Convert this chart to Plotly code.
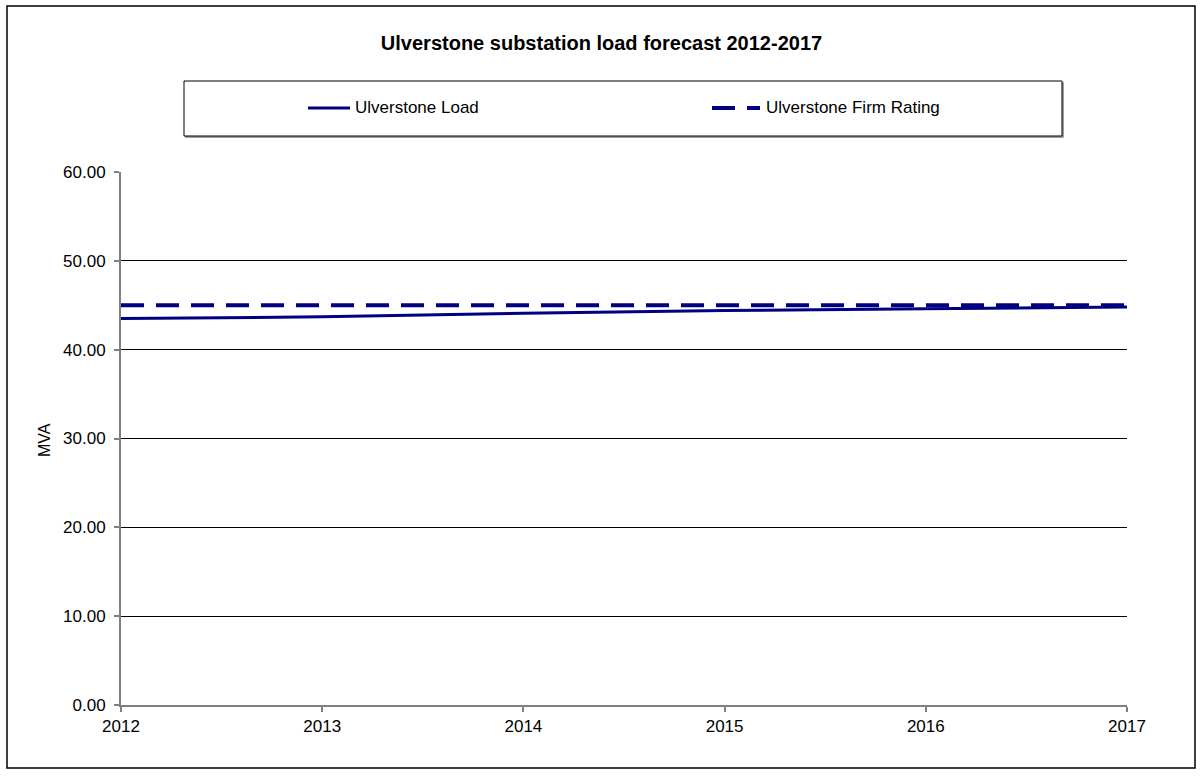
import plotly.graph_objects as go

# Forecast years and substation values (MVA)
years = [2012, 2013, 2014, 2015, 2016, 2017]
load_mva = [43.5, 43.7, 44.1, 44.4, 44.6, 44.8]
firm_rating_mva = [45.0, 45.0, 45.0, 45.0, 45.0, 45.0]

y_ticks = [0, 10, 20, 30, 40, 50, 60]

series_names = ["Ulverstone Load", "Ulverstone Firm Rating"]

NAVY = "#000080"
AXIS_GREY = "#808080"
FONT = "Liberation Sans, Arial, sans-serif"
FIRM_DASH = "23px,12px"

W, H = 1203, 776
L, R, T, B = 121, 76, 172, 71
PW, PH = W - L - R, H - T - B


def px_x(px):
    return (px - L) / PW


def px_y(py):
    return (H - B - py) / PH


fig = go.Figure()
fig.add_trace(go.Scatter(
    x=years, y=load_mva, mode="lines", name=series_names[0],
    line=dict(color=NAVY, width=3), showlegend=False,
))
fig.add_trace(go.Scatter(
    x=years, y=firm_rating_mva, mode="lines", name=series_names[1],
    line=dict(color=NAVY, width=4, dash=FIRM_DASH), showlegend=False,
))

LEG_Y = px_y(108)
shapes = [
    # outer chart frame
    dict(type="rect", xref="paper", yref="paper",
         x0=px_x(7), x1=px_x(1195), y0=px_y(768), y1=px_y(6),
         line=dict(color="black", width=1.5), layer="below"),
    # legend frame shadow
    dict(type="rect", xref="paper", yref="paper",
         x0=px_x(186), x1=px_x(1063), y0=px_y(137), y1=px_y(83),
         line=dict(color=AXIS_GREY, width=1.5), fillcolor="rgba(0,0,0,0)", layer="below"),
    # legend frame
    dict(type="rect", xref="paper", yref="paper",
         x0=px_x(184), x1=px_x(1062), y0=px_y(136), y1=px_y(81),
         line=dict(color="black", width=1), fillcolor="white", layer="below"),
    # legend keys
    dict(type="line", xref="paper", yref="paper",
         x0=px_x(308), x1=px_x(350), y0=LEG_Y, y1=LEG_Y,
         line=dict(color=NAVY, width=3)),
    dict(type="line", xref="paper", yref="paper",
         x0=px_x(712), x1=px_x(760), y0=LEG_Y, y1=LEG_Y,
         line=dict(color=NAVY, width=4, dash=FIRM_DASH)),
]

annotations = [
    dict(text=series_names[0], xref="paper", yref="paper",
         x=px_x(353), y=LEG_Y, xanchor="left", yanchor="middle",
         showarrow=False, font=dict(family=FONT, size=17, color="black")),
    dict(text=series_names[1], xref="paper", yref="paper",
         x=px_x(764), y=LEG_Y, xanchor="left", yanchor="middle",
         showarrow=False, font=dict(family=FONT, size=17, color="black")),
    dict(text="MVA", xref="paper", yref="paper",
         x=px_x(44), y=px_y(440), xanchor="center", yanchor="middle",
         textangle=-90, showarrow=False,
         font=dict(family=FONT, size=16, color="black")),
]

fig.update_layout(
    width=W, height=H, autosize=False,
    margin=dict(l=L, r=R, t=T, b=B),
    paper_bgcolor="white", plot_bgcolor="white",
    font=dict(family=FONT, size=17, color="black"),
    title=dict(
        text="<b>Ulverstone substation load forecast 2012-2017</b>",
        x=0.5, xanchor="center", xref="container",
        y=1 - 43 / H, yanchor="middle",
        font=dict(family=FONT, size=20, color="black"),
    ),
    showlegend=False,
    xaxis=dict(
        range=[2012, 2017], tickvals=years, ticktext=[str(y) for y in years],
        showgrid=False, zeroline=False,
        showline=True, linecolor=AXIS_GREY, linewidth=2,
        ticks="outside", ticklen=5, tickcolor=AXIS_GREY, tickwidth=1.5,
        ticklabelstandoff=0,
        tickfont=dict(family=FONT, size=17),
    ),
    yaxis=dict(
        range=[0, 60], tickvals=y_ticks, tickformat=".2f",
        showgrid=True, gridcolor="black", gridwidth=1,
        zeroline=False,
        showline=True, linecolor=AXIS_GREY, linewidth=2,
        ticks="outside", ticklen=5, tickcolor=AXIS_GREY, tickwidth=1.5,
        ticklabelstandoff=5,
        tickfont=dict(family=FONT, size=17),
    ),
    shapes=shapes,
    annotations=annotations,
)

fig.write_html(
    "out.html",
    config={"responsive": False},
    post_script="document.body.style.margin='0';document.body.style.overflow='hidden';",
)
